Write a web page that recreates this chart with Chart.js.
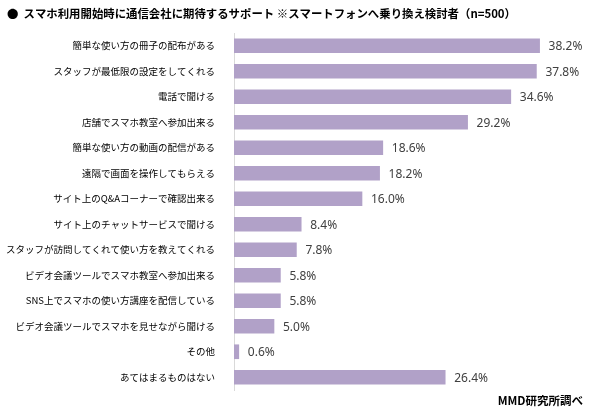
<!DOCTYPE html>
<html>
<head>
<meta charset="utf-8">
<script src="https://cdn.jsdelivr.net/npm/chart.js@4/dist/chart.umd.min.js"></script>
<style>
  html, body { margin: 0; padding: 0; background: #fff; }
  #wrap { width: 590px; height: 413px; position: relative; }
</style>
</head>
<body>
<div id="wrap"><canvas id="mychart" width="590" height="413"></canvas></div>
<script>
const titleText = '●  スマホ利用開始時に通信会社に期待するサポート ※スマートフォンへ乗り換え検討者（n=500）';
const sourceText = 'MMD研究所調べ';

const categories = [
    '簡単な使い方の冊子の配布がある',
    'スタッフが最低限の設定をしてくれる',
    '電話で聞ける',
    '店舗でスマホ教室へ参加出来る',
    '簡単な使い方の動画の配信がある',
    '遠隔で画面を操作してもらえる',
    'サイト上のQ&Aコーナーで確認出来る',
    'サイト上のチャットサービスで聞ける',
    'スタッフが訪問してくれて使い方を教えてくれる',
    'ビデオ会議ツールでスマホ教室へ参加出来る',
    'SNS上でスマホの使い方講座を配信している',
    'ビデオ会議ツールでスマホを見せながら聞ける',
    'その他',
    'あてはまるものはない'
];
const values = [38.2, 37.8, 34.6, 29.2, 18.6, 18.2, 16.0, 8.4, 7.8, 5.8, 5.8, 5.0, 0.6, 26.4];

const jpFont = '"Noto Sans CJK JP", "Noto Sans", sans-serif';

// value labels at bar ends + title and source text
const labelPlugin = {
    id: 'labels',
    afterDatasetsDraw(chart) {
        const ctx = chart.ctx;
        const meta = chart.getDatasetMeta(0);
        ctx.save();
        ctx.font = '12px "Noto Sans", sans-serif';
        ctx.fillStyle = '#404040';
        ctx.textAlign = 'left';
        ctx.textBaseline = 'middle';
        meta.data.forEach((bar, i) => {
            ctx.fillText(values[i].toFixed(1) + '%', bar.x + 9, bar.y + 1);
        });
        ctx.restore();
    },
    afterDraw(chart) {
        const ctx = chart.ctx;
        ctx.save();
        ctx.fillStyle = '#000';
        ctx.textBaseline = 'middle';
        ctx.font = 'bold 11.4px ' + jpFont;
        ctx.textAlign = 'left';
        ctx.fillText(titleText, 7, 14);
        ctx.font = 'bold 11.5px ' + jpFont;
        ctx.textAlign = 'right';
        ctx.fillText(sourceText, 583, 401);
        ctx.restore();
    }
};

const ctx = document.getElementById('mychart').getContext('2d');
new Chart(ctx, {
    type: 'bar',
    data: {
        labels: categories,
        datasets: [{
            data: values,
            backgroundColor: '#b1a1c8',
            barThickness: 14
        }]
    },
    options: {
        indexAxis: 'y',
        responsive: false,
        animation: false,
        layout: {
            padding: { top: 33, bottom: 23, left: 0, right: 20 }
        },
        plugins: {
            legend: { display: false },
            tooltip: { enabled: false }
        },
        scales: {
            x: {
                display: false,
                min: 0,
                max: 42
            },
            y: {
                afterFit: s => { s.width = 234; },
                grid: { display: false },
                border: { display: true, color: '#d9d9d9', width: 1 },
                ticks: {
                    padding: 11,
                    color: '#000',
                    font: { family: jpFont, size: 9.5 }
                }
            }
        }
    },
    plugins: [labelPlugin]
});
</script>
</body>
</html>
